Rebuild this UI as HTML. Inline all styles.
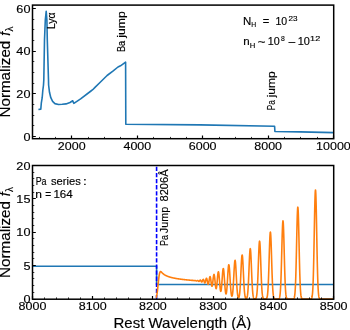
<!DOCTYPE html>
<html><head><meta charset="utf-8"><style>
html,body{margin:0;padding:0;background:#fff;}
svg{display:block;font-family:"Liberation Sans", sans-serif;will-change:transform;}
</style></head><body>
<svg width="350" height="330" viewBox="0 0 350 330">
<rect width="350" height="330" fill="#fff"/>
<path d="M38.4,109.5 L40.8,109.1 L41.3,103.2 L42.2,97.7 L42.8,90.5 L43.5,85 L43.8,80 L44.5,40 L45.3,20 L46.2,11.3 L46.9,20 L47.3,40 L48.5,80 L48.6,85 L49.5,92.3 L50.8,97.7 L52.6,101.4 L54.9,103.6 L58.5,104.5 L62.2,104.3 L66,103.9 L70,102.5 L72.7,100.8 L73.9,103.3 L80.6,98.8 L90.3,91.5 L92.7,89.7 L95,87.4 L101,81.5 L107.1,75.5 L113.2,70.9 L118,67 L120.5,65.8 L125.6,62.1 L125.8,124.2 L200,124.9 L274.6,126.3 L274.9,131.5 L300,131.9 L333.8,132.6" fill="none" stroke="#1f77b4" stroke-width="1.6" stroke-linejoin="round"/>
<path d="M32.5,266.3 H156.59 V284.52 H333.7" fill="none" stroke="#1f77b4" stroke-width="1.6"/>
<line x1="156.59" y1="299.2" x2="156.59" y2="165.5" stroke="#0000ff" stroke-width="1.6" stroke-dasharray="4.3 1.8"/>
<path d="M155.99,297.92 L156.14,297.59 L156.29,297.18 L156.44,296.69 L156.59,296.10 L156.75,295.40 L156.90,294.60 L157.05,293.69 L157.20,292.67 L157.35,291.54 L157.50,290.31 L157.65,288.99 L157.80,287.61 L157.95,286.17 L158.10,284.71 L158.25,283.24 L158.40,281.79 L158.55,280.39 L158.70,279.05 L158.85,277.80 L159.00,276.65 L159.15,275.62 L159.31,274.71 L159.46,273.93 L159.61,273.27 L159.76,272.74 L159.91,272.32 L160.06,272.00 L160.21,271.79 L160.36,271.65 L160.51,271.59 L160.66,271.58 L160.81,271.62 L160.96,271.70 L161.11,271.81 L161.26,271.94 L161.41,272.08 L161.56,272.24 L161.71,272.39 L161.87,272.55 L162.02,272.71 L162.17,272.87 L162.32,273.02 L162.47,273.17 L162.62,273.32 L162.77,273.46 L162.92,273.59 L163.07,273.72 L163.22,273.85 L163.37,273.97 L163.52,274.09 L163.67,274.20 L163.82,274.32 L163.97,274.42 L164.12,274.53 L164.28,274.63 L164.43,274.73 L164.58,274.82 L164.73,274.91 L164.88,275.00 L165.03,275.09 L165.18,275.18 L165.33,275.26 L165.48,275.34 L165.63,275.42 L165.78,275.50 L165.93,275.57 L166.08,275.65 L166.23,275.72 L166.38,275.79 L166.53,275.86 L166.68,275.92 L166.84,275.99 L166.99,276.05 L167.14,276.12 L167.29,276.18 L167.44,276.24 L167.59,276.30 L167.74,276.36 L167.89,276.41 L168.04,276.47 L168.19,276.52 L168.34,276.58 L168.49,276.63 L168.64,276.68 L168.79,276.73 L168.94,276.78 L169.09,276.83 L169.24,276.88 L169.40,276.93 L169.55,276.97 L169.70,277.02 L169.85,277.07 L170.00,277.11 L170.15,277.15 L170.30,277.20 L170.45,277.24 L170.60,277.28 L170.75,277.32 L170.90,277.36 L171.05,277.40 L171.20,277.44 L171.35,277.48 L171.50,277.52 L171.65,277.56 L171.81,277.60 L171.96,277.63 L172.11,277.67 L172.26,277.70 L172.41,277.74 L172.56,277.77 L172.71,277.81 L172.86,277.84 L173.01,277.88 L173.16,277.91 L173.31,277.94 L173.46,277.97 L173.61,278.01 L173.76,278.04 L173.91,278.07 L174.06,278.10 L174.21,278.13 L174.37,278.16 L174.52,278.19 L174.67,278.22 L174.82,278.25 L174.97,278.28 L175.12,278.31 L175.27,278.33 L175.42,278.36 L175.57,278.39 L175.72,278.42 L175.87,278.44 L176.02,278.47 L176.17,278.50 L176.32,278.52 L176.47,278.55 L176.62,278.57 L176.77,278.60 L176.93,278.63 L177.08,278.65 L177.23,278.67 L177.38,278.70 L177.53,278.72 L177.68,278.75 L177.83,278.77 L177.98,278.79 L178.13,278.82 L178.28,278.84 L178.43,278.86 L178.58,278.89 L178.73,278.91 L178.88,278.93 L179.03,278.95 L179.18,278.97 L179.34,279.00 L179.49,279.02 L179.64,279.04 L179.79,279.06 L179.94,279.08 L180.09,279.10 L180.24,279.12 L180.39,279.14 L180.54,279.16 L180.69,279.18 L180.84,279.20 L180.99,279.22 L181.14,279.24 L181.29,279.26 L181.44,279.28 L181.59,279.30 L181.74,279.32 L181.90,279.34 L182.05,279.36 L182.20,279.38 L182.35,279.39 L182.50,279.41 L182.65,279.43 L182.80,279.45 L182.95,279.47 L183.10,279.48 L183.25,279.50 L183.40,279.52 L183.55,279.54 L183.70,279.55 L183.85,279.57 L184.00,279.59 L184.15,279.61 L184.30,279.62 L184.46,279.64 L184.61,279.66 L184.76,279.67 L184.91,279.69 L185.06,279.71 L185.21,279.72 L185.36,279.74 L185.51,279.75 L185.66,279.77 L185.81,279.79 L185.96,279.80 L186.11,279.82 L186.26,279.83 L186.41,279.85 L186.56,279.86 L186.71,279.88 L186.87,279.89 L187.02,279.91 L187.17,279.92 L187.32,279.94 L187.47,279.95 L187.62,279.97 L187.77,279.98 L187.92,280.00 L188.07,280.01 L188.22,280.03 L188.37,280.04 L188.52,280.05 L188.67,280.06 L188.82,280.08 L188.97,280.09 L189.12,280.11 L189.27,280.13 L189.43,280.14 L189.58,280.16 L189.73,280.17 L189.88,280.19 L190.03,280.20 L190.18,280.21 L190.33,280.22 L190.48,280.22 L190.63,280.23 L190.78,280.24 L190.93,280.26 L191.08,280.28 L191.23,280.30 L191.38,280.32 L191.53,280.35 L191.68,280.37 L191.83,280.38 L191.99,280.39 L192.14,280.39 L192.29,280.39 L192.44,280.38 L192.59,280.38 L192.74,280.38 L192.89,280.39 L193.04,280.41 L193.19,280.43 L193.34,280.47 L193.49,280.51 L193.64,280.56 L193.79,280.59 L193.94,280.62 L194.09,280.63 L194.24,280.62 L194.40,280.60 L194.55,280.57 L194.70,280.53 L194.85,280.50 L195.00,280.48 L195.15,280.48 L195.30,280.50 L195.45,280.55 L195.60,280.62 L195.75,280.70 L195.90,280.79 L196.05,280.87 L196.20,280.93 L196.35,280.96 L196.50,280.96 L196.65,280.92 L196.80,280.85 L196.96,280.76 L197.11,280.66 L197.26,280.56 L197.41,280.49 L197.56,280.46 L197.71,280.47 L197.86,280.53 L198.01,280.64 L198.16,280.78 L198.31,280.94 L198.46,281.10 L198.61,281.24 L198.76,281.34 L198.91,281.39 L199.06,281.37 L199.21,281.27 L199.36,281.12 L199.52,280.92 L199.67,280.70 L199.82,280.48 L199.97,280.29 L200.12,280.15 L200.27,280.08 L200.42,280.11 L200.57,280.22 L200.72,280.41 L200.87,280.68 L201.02,280.98 L201.17,281.29 L201.32,281.57 L201.47,281.80 L201.62,281.94 L201.77,281.98 L201.93,281.90 L202.08,281.70 L202.23,281.41 L202.38,281.04 L202.53,280.64 L202.68,280.23 L202.83,279.86 L202.98,279.58 L203.13,279.41 L203.28,279.37 L203.43,279.47 L203.58,279.72 L203.73,280.09 L203.88,280.56 L204.03,281.08 L204.18,281.61 L204.33,282.11 L204.49,282.52 L204.64,282.80 L204.79,282.93 L204.94,282.89 L205.09,282.67 L205.24,282.29 L205.39,281.77 L205.54,281.15 L205.69,280.48 L205.84,279.81 L205.99,279.21 L206.14,278.71 L206.29,278.38 L206.44,278.23 L206.59,278.29 L206.74,278.56 L206.89,279.02 L207.05,279.65 L207.20,280.40 L207.35,281.22 L207.50,282.05 L207.65,282.83 L207.80,283.49 L207.95,284.00 L208.10,284.29 L208.25,284.36 L208.40,284.18 L208.55,283.77 L208.70,283.14 L208.85,282.33 L209.00,281.40 L209.15,280.40 L209.30,279.40 L209.46,278.47 L209.61,277.67 L209.76,277.06 L209.91,276.69 L210.06,276.59 L210.21,276.76 L210.36,277.21 L210.51,277.90 L210.66,278.81 L210.81,279.88 L210.96,281.04 L211.11,282.22 L211.26,283.37 L211.41,284.39 L211.56,285.25 L211.71,285.87 L211.86,286.22 L212.02,286.28 L212.17,286.04 L212.32,285.49 L212.47,284.67 L212.62,283.62 L212.77,282.39 L212.92,281.04 L213.07,279.65 L213.22,278.29 L213.37,277.04 L213.52,275.98 L213.67,275.15 L213.82,274.62 L213.97,274.42 L214.12,274.56 L214.27,275.04 L214.42,275.83 L214.58,276.91 L214.73,278.21 L214.88,279.66 L215.03,281.21 L215.18,282.77 L215.33,284.27 L215.48,285.63 L215.63,286.80 L215.78,287.72 L215.93,288.35 L216.08,288.65 L216.23,288.61 L216.38,288.22 L216.53,287.50 L216.68,286.46 L216.83,285.16 L216.99,283.63 L217.14,281.94 L217.29,280.17 L217.44,278.38 L217.59,276.67 L217.74,275.11 L217.89,273.78 L218.04,272.74 L218.19,272.05 L218.34,271.74 L218.49,271.84 L218.64,272.33 L218.79,273.19 L218.94,274.40 L219.09,275.89 L219.24,277.59 L219.39,279.44 L219.55,281.36 L219.70,283.26 L219.85,285.09 L220.00,286.77 L220.15,288.25 L220.30,289.48 L220.45,290.41 L220.60,291.03 L220.75,291.31 L220.90,291.24 L221.05,290.81 L221.20,290.04 L221.35,288.94 L221.50,287.53 L221.65,285.86 L221.80,283.96 L221.95,281.90 L222.11,279.75 L222.26,277.58 L222.41,275.47 L222.56,273.51 L222.71,271.79 L222.86,270.37 L223.01,269.32 L223.16,268.69 L223.31,268.51 L223.46,268.78 L223.61,269.51 L223.76,270.64 L223.91,272.15 L224.06,273.95 L224.21,275.97 L224.36,278.15 L224.51,280.39 L224.67,282.62 L224.82,284.77 L224.97,286.78 L225.12,288.60 L225.27,290.19 L225.42,291.53 L225.57,292.58 L225.72,293.34 L225.87,293.80 L226.02,293.95 L226.17,293.78 L226.32,293.30 L226.47,292.50 L226.62,291.39 L226.77,289.98 L226.92,288.28 L227.08,286.32 L227.23,284.13 L227.38,281.76 L227.53,279.28 L227.68,276.75 L227.83,274.25 L227.98,271.88 L228.13,269.72 L228.28,267.86 L228.43,266.38 L228.58,265.34 L228.73,264.79 L228.88,264.75 L229.03,265.23 L229.18,266.21 L229.33,267.63 L229.48,269.44 L229.64,271.57 L229.79,273.93 L229.94,276.43 L230.09,278.98 L230.24,281.51 L230.39,283.94 L230.54,286.22 L230.69,288.31 L230.84,290.16 L230.99,291.77 L231.14,293.13 L231.29,294.23 L231.44,295.09 L231.59,295.69 L231.74,296.06 L231.89,296.19 L232.04,296.09 L232.20,295.75 L232.35,295.16 L232.50,294.32 L232.65,293.20 L232.80,291.82 L232.95,290.15 L233.10,288.20 L233.25,285.98 L233.40,283.53 L233.55,280.87 L233.70,278.06 L233.85,275.18 L234.00,272.31 L234.15,269.54 L234.30,266.97 L234.45,264.70 L234.61,262.82 L234.76,261.41 L234.91,260.54 L235.06,260.24 L235.21,260.52 L235.36,261.38 L235.51,262.77 L235.66,264.63 L235.81,266.89 L235.96,269.46 L236.11,272.22 L236.26,275.10 L236.41,277.98 L236.56,280.80 L236.71,283.47 L236.86,285.95 L237.01,288.20 L237.17,290.19 L237.32,291.92 L237.47,293.39 L237.62,294.61 L237.77,295.59 L237.92,296.37 L238.07,296.96 L238.22,297.37 L238.37,297.64 L238.52,297.76 L238.67,297.74 L238.82,297.58 L238.97,297.27 L239.12,296.79 L239.27,296.13 L239.42,295.27 L239.57,294.17 L239.73,292.82 L239.88,291.18 L240.03,289.25 L240.18,287.03 L240.33,284.51 L240.48,281.72 L240.63,278.70 L240.78,275.52 L240.93,272.25 L241.08,268.98 L241.23,265.81 L241.38,262.86 L241.53,260.25 L241.68,258.07 L241.83,256.42 L241.98,255.37 L242.14,254.96 L242.29,255.22 L242.44,256.14 L242.59,257.67 L242.74,259.74 L242.89,262.27 L243.04,265.15 L243.19,268.28 L243.34,271.54 L243.49,274.82 L243.64,278.03 L243.79,281.09 L243.94,283.93 L244.09,286.51 L244.24,288.81 L244.39,290.81 L244.54,292.51 L244.70,293.94 L244.85,295.11 L245.00,296.05 L245.15,296.80 L245.30,297.38 L245.45,297.82 L245.60,298.14 L245.75,298.36 L245.90,298.51 L246.05,298.59 L246.20,298.61 L246.35,298.57 L246.50,298.47 L246.65,298.30 L246.80,298.03 L246.95,297.67 L247.10,297.17 L247.26,296.52 L247.41,295.67 L247.56,294.60 L247.71,293.27 L247.86,291.65 L248.01,289.71 L248.16,287.44 L248.31,284.83 L248.46,281.89 L248.61,278.66 L248.76,275.17 L248.91,271.51 L249.06,267.76 L249.21,264.03 L249.36,260.45 L249.51,257.14 L249.67,254.23 L249.82,251.85 L249.97,250.08 L250.12,249.00 L250.27,248.68 L250.42,249.11 L250.57,250.29 L250.72,252.15 L250.87,254.62 L251.02,257.59 L251.17,260.95 L251.32,264.56 L251.47,268.30 L251.62,272.04 L251.77,275.68 L251.92,279.14 L252.07,282.33 L252.23,285.23 L252.38,287.79 L252.53,290.01 L252.68,291.90 L252.83,293.48 L252.98,294.77 L253.13,295.81 L253.28,296.63 L253.43,297.26 L253.58,297.75 L253.73,298.11 L253.88,298.38 L254.03,298.57 L254.18,298.71 L254.33,298.80 L254.48,298.86 L254.63,298.90 L254.79,298.92 L254.94,298.92 L255.09,298.91 L255.24,298.88 L255.39,298.83 L255.54,298.75 L255.69,298.63 L255.84,298.46 L255.99,298.22 L256.14,297.89 L256.29,297.44 L256.44,296.85 L256.59,296.07 L256.74,295.07 L256.89,293.81 L257.04,292.25 L257.20,290.36 L257.35,288.09 L257.50,285.44 L257.65,282.41 L257.80,278.99 L257.95,275.24 L258.10,271.21 L258.25,266.98 L258.40,262.67 L258.55,258.39 L258.70,254.30 L258.85,250.53 L259.00,247.24 L259.15,244.56 L259.30,242.60 L259.45,241.44 L259.60,241.15 L259.76,241.73 L259.91,243.16 L260.06,245.38 L260.21,248.28 L260.36,251.74 L260.51,255.64 L260.66,259.81 L260.81,264.11 L260.96,268.41 L261.11,272.58 L261.26,276.52 L261.41,280.17 L261.56,283.46 L261.71,286.37 L261.86,288.89 L262.01,291.03 L262.16,292.81 L262.32,294.26 L262.47,295.43 L262.62,296.35 L262.77,297.06 L262.92,297.61 L263.07,298.01 L263.22,298.31 L263.37,298.53 L263.52,298.68 L263.67,298.79 L263.82,298.86 L263.97,298.91 L264.12,298.94 L264.27,298.96 L264.42,298.98 L264.57,298.99 L264.73,298.99 L264.88,298.99 L265.03,298.99 L265.18,298.99 L265.33,298.99 L265.48,298.98 L265.63,298.96 L265.78,298.94 L265.93,298.91 L266.08,298.86 L266.23,298.79 L266.38,298.68 L266.53,298.52 L266.68,298.30 L266.83,298.00 L266.98,297.58 L267.13,297.01 L267.29,296.27 L267.44,295.30 L267.59,294.06 L267.74,292.50 L267.89,290.59 L268.04,288.27 L268.19,285.52 L268.34,282.32 L268.49,278.67 L268.64,274.60 L268.79,270.15 L268.94,265.41 L269.09,260.47 L269.24,255.48 L269.39,250.57 L269.54,245.93 L269.69,241.71 L269.85,238.09 L270.00,235.22 L270.15,233.21 L270.30,232.17 L270.45,232.13 L270.60,233.09 L270.75,235.02 L270.90,237.83 L271.05,241.40 L271.20,245.57 L271.35,250.19 L271.50,255.08 L271.65,260.08 L271.80,265.02 L271.95,269.79 L272.10,274.26 L272.26,278.36 L272.41,282.05 L272.56,285.28 L272.71,288.07 L272.86,290.42 L273.01,292.36 L273.16,293.95 L273.31,295.21 L273.46,296.20 L273.61,296.96 L273.76,297.54 L273.91,297.97 L274.06,298.28 L274.21,298.51 L274.36,298.67 L274.51,298.78 L274.66,298.86 L274.82,298.91 L274.97,298.94 L275.12,298.96 L275.27,298.98 L275.42,298.99 L275.57,298.99 L275.72,299.00 L275.87,299.00 L276.02,299.00 L276.17,299.00 L276.32,299.00 L276.47,299.00 L276.62,299.00 L276.77,299.00 L276.92,299.00 L277.07,299.00 L277.23,299.00 L277.38,299.00 L277.53,299.00 L277.68,298.99 L277.83,298.99 L277.98,298.98 L278.13,298.97 L278.28,298.95 L278.43,298.92 L278.58,298.88 L278.73,298.82 L278.88,298.72 L279.03,298.58 L279.18,298.38 L279.33,298.10 L279.48,297.70 L279.63,297.17 L279.79,296.46 L279.94,295.51 L280.09,294.30 L280.24,292.75 L280.39,290.82 L280.54,288.45 L280.69,285.61 L280.84,282.25 L280.99,278.37 L281.14,273.96 L281.29,269.08 L281.44,263.78 L281.59,258.17 L281.74,252.37 L281.89,246.56 L282.04,240.91 L282.19,235.61 L282.35,230.88 L282.50,226.89 L282.65,223.82 L282.80,221.80 L282.95,220.91 L283.10,221.21 L283.25,222.67 L283.40,225.23 L283.55,228.78 L283.70,233.16 L283.85,238.20 L284.00,243.70 L284.15,249.46 L284.30,255.29 L284.45,261.01 L284.60,266.48 L284.75,271.58 L284.91,276.23 L285.06,280.37 L285.21,283.99 L285.36,287.09 L285.51,289.69 L285.66,291.84 L285.81,293.57 L285.96,294.94 L286.11,296.02 L286.26,296.84 L286.41,297.46 L286.56,297.92 L286.71,298.25 L286.86,298.49 L287.01,298.66 L287.16,298.77 L287.32,298.85 L287.47,298.90 L287.62,298.94 L287.77,298.96 L287.92,298.98 L288.07,298.99 L288.22,298.99 L288.37,299.00 L288.52,299.00 L288.67,299.00 L288.82,299.00 L288.97,299.00 L289.12,299.00 L289.27,299.00 L289.42,299.00 L289.57,299.00 L289.72,299.00 L289.88,299.00 L290.03,299.00 L290.18,299.00 L290.33,299.00 L290.48,299.00 L290.63,299.00 L290.78,299.00 L290.93,299.00 L291.08,299.00 L291.23,299.00 L291.38,299.00 L291.53,299.00 L291.68,299.00 L291.83,299.00 L291.98,299.00 L292.13,299.00 L292.29,299.00 L292.44,298.99 L292.59,298.99 L292.74,298.98 L292.89,298.97 L293.04,298.96 L293.19,298.93 L293.34,298.89 L293.49,298.83 L293.64,298.74 L293.79,298.61 L293.94,298.42 L294.09,298.14 L294.24,297.76 L294.39,297.23 L294.54,296.52 L294.69,295.58 L294.85,294.34 L295.00,292.75 L295.15,290.75 L295.30,288.27 L295.45,285.26 L295.60,281.66 L295.75,277.45 L295.90,272.62 L296.05,267.20 L296.20,261.24 L296.35,254.84 L296.50,248.12 L296.65,241.27 L296.80,234.49 L296.95,227.99 L297.10,222.01 L297.25,216.79 L297.41,212.53 L297.56,209.42 L297.71,207.60 L297.86,207.14 L298.01,208.07 L298.16,210.35 L298.31,213.87 L298.46,218.48 L298.61,223.99 L298.76,230.17 L298.91,236.79 L299.06,243.63 L299.21,250.45 L299.36,257.07 L299.51,263.34 L299.66,269.12 L299.81,274.35 L299.97,278.96 L300.12,282.96 L300.27,286.35 L300.42,289.18 L300.57,291.49 L300.72,293.34 L300.87,294.80 L301.02,295.93 L301.17,296.79 L301.32,297.43 L301.47,297.91 L301.62,298.25 L301.77,298.49 L301.92,298.66 L302.07,298.78 L302.22,298.86 L302.38,298.91 L302.53,298.94 L302.68,298.96 L302.83,298.98 L302.98,298.99 L303.13,298.99 L303.28,299.00 L303.43,299.00 L303.58,299.00 L303.73,299.00 L303.88,299.00 L304.03,299.00 L304.18,299.00 L304.33,299.00 L304.48,299.00 L304.63,299.00 L304.78,299.00 L304.94,299.00 L305.09,299.00 L305.24,299.00 L305.39,299.00 L305.54,299.00 L305.69,299.00 L305.84,299.00 L305.99,299.00 L306.14,299.00 L306.29,299.00 L306.44,299.00 L306.59,299.00 L306.74,299.00 L306.89,299.00 L307.04,299.00 L307.19,299.00 L307.35,299.00 L307.50,299.00 L307.65,299.00 L307.80,299.00 L307.95,299.00 L308.10,299.00 L308.25,299.00 L308.40,299.00 L308.55,299.00 L308.70,299.00 L308.85,299.00 L309.00,299.00 L309.15,299.00 L309.30,299.00 L309.45,299.00 L309.60,299.00 L309.75,299.00 L309.91,299.00 L310.06,298.99 L310.21,298.99 L310.36,298.98 L310.51,298.97 L310.66,298.96 L310.81,298.93 L310.96,298.88 L311.11,298.82 L311.26,298.72 L311.41,298.58 L311.56,298.37 L311.71,298.07 L311.86,297.65 L312.01,297.06 L312.16,296.27 L312.31,295.22 L312.47,293.84 L312.62,292.06 L312.77,289.80 L312.92,286.99 L313.07,283.56 L313.22,279.46 L313.37,274.63 L313.52,269.06 L313.67,262.78 L313.82,255.84 L313.97,248.35 L314.12,240.45 L314.27,232.34 L314.42,224.24 L314.57,216.42 L314.72,209.16 L314.88,202.73 L315.03,197.40 L315.18,193.38 L315.33,190.85 L315.48,189.94 L315.63,190.67 L315.78,193.01 L315.93,196.87 L316.08,202.06 L316.23,208.38 L316.38,215.56 L316.53,223.33 L316.68,231.41 L316.83,239.53 L316.98,247.46 L317.13,255.01 L317.28,262.02 L317.44,268.38 L317.59,274.03 L317.74,278.94 L317.89,283.13 L318.04,286.63 L318.19,289.51 L318.34,291.82 L318.49,293.66 L318.64,295.08 L318.79,296.17 L318.94,296.99 L319.09,297.59 L319.24,298.03 L319.39,298.34 L319.54,298.56 L319.69,298.71 L319.84,298.81 L320.00,298.88 L320.15,298.92 L320.30,298.95 L320.45,298.97 L320.60,298.98 L320.75,298.99 L320.90,298.99 L321.05,299.00 L321.20,299.00 L321.35,299.00 L321.50,299.00 L321.65,299.00 L321.80,299.00 L321.95,299.00 L322.10,299.00 L322.25,299.00 L322.40,299.00 L322.56,299.00 L322.71,299.00 L322.86,299.00 L323.01,299.00 L323.16,299.00 L323.31,299.00 L323.46,299.00 L323.61,299.00 L323.76,299.00 L323.91,299.00 L324.06,299.00 L324.21,299.00 L324.36,299.00 L324.51,299.00 L324.66,299.00 L324.81,299.00 L324.97,299.00 L325.12,299.00 L325.27,299.00 L325.42,299.00 L325.57,299.00 L325.72,299.00 L325.87,299.00 L326.02,299.00 L326.17,299.00 L326.32,299.00 L326.47,299.00 L326.62,299.00 L326.77,299.00 L326.92,299.00 L327.07,299.00 L327.22,299.00 L327.37,299.00 L327.53,299.00 L327.68,299.00 L327.83,299.00 L327.98,299.00 L328.13,299.00 L328.28,299.00 L328.43,299.00 L328.58,299.00 L328.73,299.00 L328.88,299.00 L329.03,299.00 L329.18,299.00 L329.33,299.00 L329.48,299.00 L329.63,299.00 L329.78,299.00 L329.94,299.00 L330.09,299.00 L330.24,299.00 L330.39,299.00 L330.54,299.00 L330.69,299.00 L330.84,299.00 L330.99,299.00 L331.14,299.00 L331.29,299.00 L331.44,299.00 L331.59,299.00 L331.74,299.00 L331.89,299.00 L332.04,299.00 L332.19,299.00 L332.34,299.00 L332.50,299.00 L332.65,299.00 L332.80,299.00 L332.95,299.00 L333.10,299.00 L333.25,299.00 L333.40,299.00 L333.55,299.00 L333.70,299.00" fill="none" stroke="#ff7f0e" stroke-width="1.6" stroke-linejoin="round"/>
<rect x="32.5" y="5.1" width="301.2" height="133.6" fill="none" stroke="#000" stroke-width="1.5"/>
<rect x="32.5" y="165.5" width="301.2" height="133.7" fill="none" stroke="#000" stroke-width="1.5"/>
<path d="M32.5,136.5h3.3 M32.5,93.5h3.3 M32.5,51.5h3.3 M32.5,8.5h3.3 M71.5,138.7v-3.3 M137.5,138.7v-3.3 M202.5,138.7v-3.3 M268.5,138.7v-3.3 M333.5,138.7v-3.3 M32.5,299.5h3.3 M32.5,265.5h3.3 M32.5,232.5h3.3 M32.5,198.5h3.3 M32.5,165.5h3.3 M32.5,299.2v-3.3 M92.5,299.2v-3.3 M152.5,299.2v-3.3 M213.5,299.2v-3.3 M273.5,299.2v-3.3 M333.5,299.2v-3.3" stroke="#000" stroke-width="1.2"/>
<path d="M32.5,125.5h1.8 M32.5,115.5h1.8 M32.5,104.5h1.8 M32.5,83.5h1.8 M32.5,72.5h1.8 M32.5,61.5h1.8 M32.5,40.5h1.8 M32.5,29.5h1.8 M32.5,19.5h1.8 M39.5,138.7v-1.8 M55.5,138.7v-1.8 M88.5,138.7v-1.8 M104.5,138.7v-1.8 M120.5,138.7v-1.8 M153.5,138.7v-1.8 M170.5,138.7v-1.8 M186.5,138.7v-1.8 M219.5,138.7v-1.8 M235.5,138.7v-1.8 M251.5,138.7v-1.8 M284.5,138.7v-1.8 M300.5,138.7v-1.8 M317.5,138.7v-1.8 M32.5,292.5h1.8 M32.5,285.5h1.8 M32.5,278.5h1.8 M32.5,272.5h1.8 M32.5,258.5h1.8 M32.5,252.5h1.8 M32.5,245.5h1.8 M32.5,238.5h1.8 M32.5,225.5h1.8 M32.5,218.5h1.8 M32.5,212.5h1.8 M32.5,205.5h1.8 M32.5,192.5h1.8 M32.5,185.5h1.8 M32.5,178.5h1.8 M32.5,172.5h1.8 M44.5,299.2v-1.8 M56.5,299.2v-1.8 M68.5,299.2v-1.8 M80.5,299.2v-1.8 M104.5,299.2v-1.8 M116.5,299.2v-1.8 M128.5,299.2v-1.8 M140.5,299.2v-1.8 M165.5,299.2v-1.8 M177.5,299.2v-1.8 M189.5,299.2v-1.8 M201.5,299.2v-1.8 M225.5,299.2v-1.8 M237.5,299.2v-1.8 M249.5,299.2v-1.8 M261.5,299.2v-1.8 M285.5,299.2v-1.8 M297.5,299.2v-1.8 M309.5,299.2v-1.8 M321.5,299.2v-1.8" stroke="#000" stroke-width="0.8"/>
<g fill="#000" stroke="#000" stroke-width="0.15">
<text transform="translate(23.89,140.7) scale(1.0750,1) translate(-0.461,0)" font-size="11.8">0</text>
<text transform="translate(16.97,98.03) scale(1.0750,1) translate(-0.593,0)" font-size="11.8">20</text>
<text transform="translate(16.63,55.37) scale(1.0750,1) translate(-0.271,0)" font-size="11.8">40</text>
<text transform="translate(16.98,12.7) scale(1.0750,1) translate(-0.599,0)" font-size="11.8">60</text>
<text transform="translate(58.43,149.75) scale(1.0600,1) translate(-0.593,0)" font-size="11.8">2000</text>
<text transform="translate(123.74,149.75) scale(1.0600,1) translate(-0.271,0)" font-size="11.8">4000</text>
<text transform="translate(189.39,149.75) scale(1.0600,1) translate(-0.599,0)" font-size="11.8">6000</text>
<text transform="translate(254.83,149.75) scale(1.0600,1) translate(-0.513,0)" font-size="11.8">8000</text>
<text transform="translate(317.03,149.75) scale(1.0600,1) translate(-0.899,0)" font-size="11.8">10000</text>
<text transform="translate(23.89,303.2) scale(1.0750,1) translate(-0.461,0)" font-size="11.8">0</text>
<text transform="translate(23.94,269.83) scale(1.0750,1) translate(-0.472,0)" font-size="11.8">5</text>
<text transform="translate(17.3,236.47) scale(1.0750,1) translate(-0.899,0)" font-size="11.8">10</text>
<text transform="translate(17.34,203.1) scale(1.0750,1) translate(-0.899,0)" font-size="11.8">15</text>
<text transform="translate(16.97,169.74) scale(1.0750,1) translate(-0.593,0)" font-size="11.8">20</text>
<text transform="translate(19.1,309.6) scale(1.0600,1) translate(-0.513,0)" font-size="11.8">8000</text>
<text transform="translate(79.34,309.6) scale(1.0600,1) translate(-0.513,0)" font-size="11.8">8100</text>
<text transform="translate(139.58,309.6) scale(1.0600,1) translate(-0.513,0)" font-size="11.8">8200</text>
<text transform="translate(199.82,309.6) scale(1.0600,1) translate(-0.513,0)" font-size="11.8">8300</text>
<text transform="translate(260.06,309.6) scale(1.0600,1) translate(-0.513,0)" font-size="11.8">8400</text>
<text transform="translate(320.3,309.6) scale(1.0600,1) translate(-0.513,0)" font-size="11.8">8500</text>
<text transform="translate(10.4,116.3) rotate(-90) scale(1.0789,1) translate(-1.157,0)" font-size="14.1">Normalized</text>
<text transform="translate(10.4,35.3) rotate(-90) scale(0.9869,1) translate(-0.475,0)" font-size="14.1" font-style="italic">f</text>
<text transform="translate(12.6,31.5) rotate(-90) scale(0.9910,1) translate(-0.068,0)" font-size="10.0">λ</text>
<text transform="translate(10.4,276.7) rotate(-90) scale(1.0789,1) translate(-1.157,0)" font-size="14.1">Normalized</text>
<text transform="translate(10.4,195.7) rotate(-90) scale(0.9869,1) translate(-0.475,0)" font-size="14.1" font-style="italic">f</text>
<text transform="translate(12.6,191.9) rotate(-90) scale(0.9910,1) translate(-0.068,0)" font-size="10.0">λ</text>
<text transform="translate(54.6,28.2) rotate(-90) scale(0.9846,1) translate(-0.870,0)" font-size="10.6">Lyα</text>
<text transform="translate(124.7,51.3) rotate(-90) scale(0.8681,1) translate(-0.870,0)" font-size="10.6">Ba</text>
<text transform="translate(124.7,38.1) rotate(-90) scale(1.1541,1) translate(0.259,0)" font-size="10.6">jump</text>
<text transform="translate(275.3,109.5) rotate(-90) scale(0.7771,1) translate(-0.870,0)" font-size="10.6">Pa</text>
<text transform="translate(275.3,97.6) rotate(-90) scale(1.1321,1) translate(0.259,0)" font-size="10.6">jump</text>
<text transform="translate(168.2,245.2) rotate(-90) scale(0.8515,1) translate(-0.870,0)" font-size="10.6">Pa</text>
<text transform="translate(168.2,233) rotate(-90) scale(1.0154,1) translate(-0.166,0)" font-size="10.6">Jump</text>
<text transform="translate(168.2,201) rotate(-90) scale(1.0474,1) translate(-0.461,0)" font-size="10.6">8206Å</text>
<text transform="translate(243.9,25) scale(1.0809,1) translate(-0.870,0)" font-size="10.6">N</text>
<text transform="translate(251.9,26.7) scale(0.9193,1) translate(-0.607,0)" font-size="7.4">H</text>
<text transform="translate(263.2,25) scale(1.0486,1) translate(-0.518,0)" font-size="10.6">=</text>
<text transform="translate(276.2,25) scale(0.9935,1) translate(-0.807,0)" font-size="10.6">10</text>
<text transform="translate(288.9,21) scale(1.1017,1) translate(-0.372,0)" font-size="7.4">23</text>
<text transform="translate(244,45.1) scale(1.0882,1) translate(-0.704,0)" font-size="10.6">n</text>
<text transform="translate(250.4,47.5) scale(1.0403,1) translate(-0.607,0)" font-size="7.4">H</text>
<text transform="translate(258.3,45.6) scale(1.2410,1) translate(-0.476,0)" font-size="10.6">~</text>
<text transform="translate(268.5,45.2) scale(1.0124,1) translate(-0.807,0)" font-size="10.6">10</text>
<text transform="translate(281.2,40.8) scale(0.9216,1) translate(-0.322,0)" font-size="7.4">8</text>
<text transform="translate(288.5,46.1) scale(1.2622,1) translate(-0.523,0)" font-size="10.6">−</text>
<text transform="translate(298.6,45.2) scale(1.0313,1) translate(-0.807,0)" font-size="10.6">10</text>
<text transform="translate(310.8,40.8) scale(1.2337,1) translate(-0.564,0)" font-size="7.4">12</text>
<text transform="translate(36.4,185.1) scale(0.8433,1) translate(-0.870,0)" font-size="10.6">Pa</text>
<text transform="translate(51.3,185.1) scale(1.0545,1) translate(-0.295,0)" font-size="10.6">series</text>
<text transform="translate(84.3,185.1) scale(1.2881,1) translate(-0.968,0)" font-size="10.6">:</text>
<text transform="translate(36,198.4) scale(1.1326,1) translate(-0.704,0)" font-size="10.6">n</text>
<text transform="translate(45.8,198.4) scale(0.9515,1) translate(-0.518,0)" font-size="10.6">=</text>
<text transform="translate(54.3,198.4) scale(1.0925,1) translate(-0.807,0)" font-size="10.6">164</text>
<text transform="translate(114.7,328) scale(1.0728,1) translate(-1.148,0)" font-size="14.0">Rest Wavelength (Å)</text>
</g>
</svg>
</body></html>
